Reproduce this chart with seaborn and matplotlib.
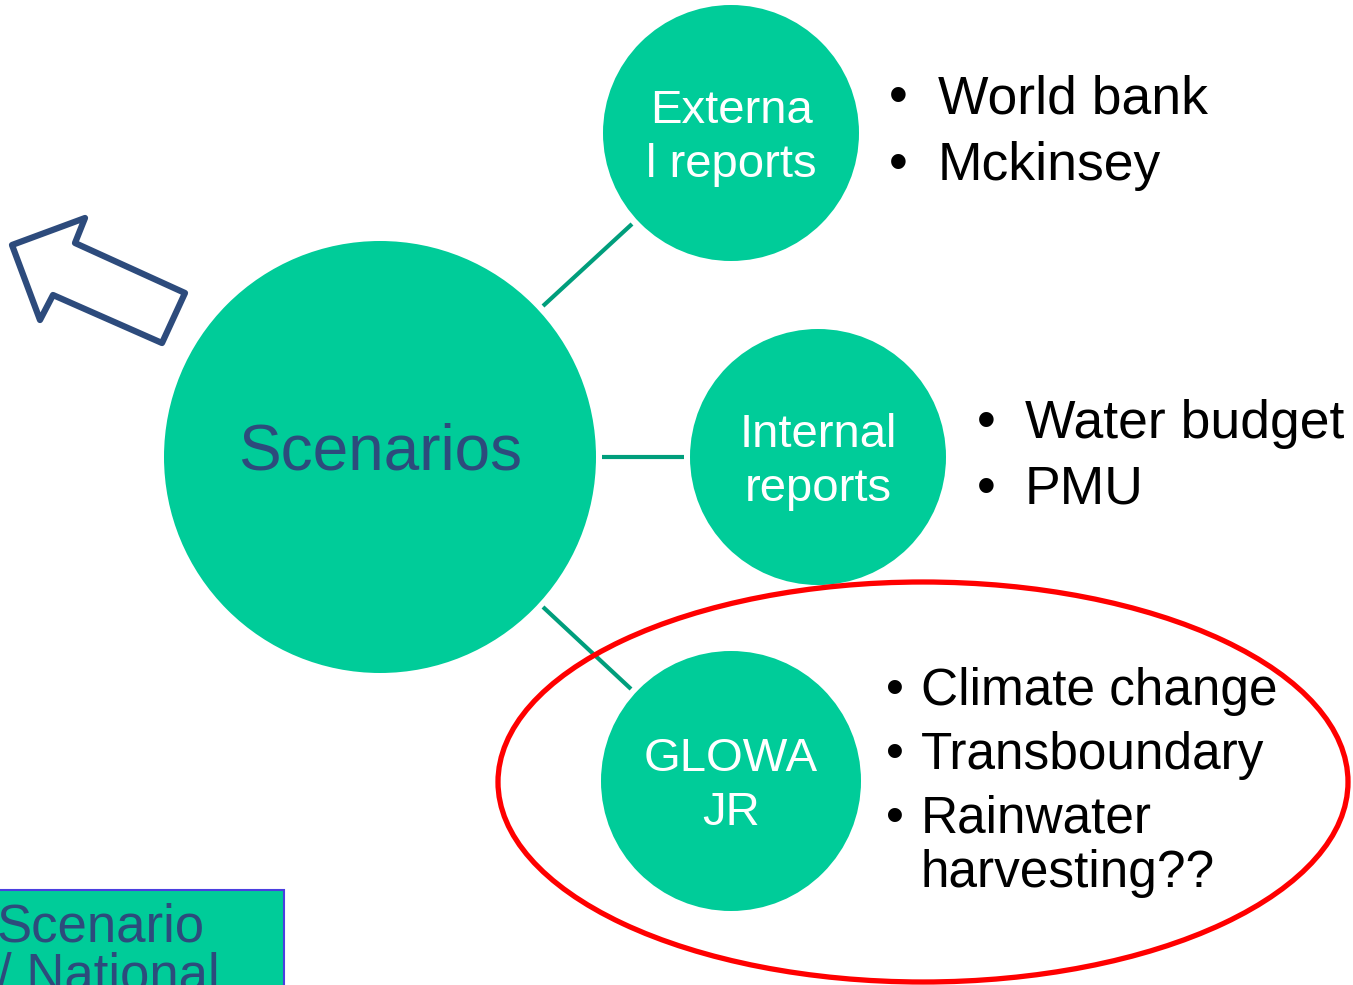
import matplotlib
matplotlib.use('Agg')
import matplotlib.pyplot as plt
from matplotlib.patches import Circle, Ellipse, Polygon, Rectangle
import seaborn as sns

sns.set_theme(style='white')
plt.rcParams['font.family'] = ['Liberation Sans', 'DejaVu Sans']

GREEN = '#00CC99'
LINE_GREEN = '#009E7C'
NAVY = '#2D4B7C'

# nodes: label, center x, center y, radius (pixel units of the slide)
node_labels = ['Scenarios', 'Externa\nl reports', 'Internal\nreports', 'GLOWA\nJR']
node_x = [380, 731, 818, 731]
node_y = [457, 133, 457, 781]
node_r = [216, 128, 128, 130]

# connector lines between main node and children
conn_x0 = [543, 602, 543]
conn_y0 = [306, 457, 607]
conn_x1 = [632, 684, 631]
conn_y1 = [224, 457, 689]

# bullet lists
bullet_groups = [
    ['World bank', 'Mckinsey'],
    ['Water budget', 'PMU'],
    ['Climate change', 'Transboundary', 'Rainwater', 'harvesting??'],
]
bullet_x = [898, 986, 895]
text_x = [938, 1025, 921]
bullet_y = [[99, 166], [424, 490], [691, 755, 819, 873]]
has_bullet = [[True, True], [True, True], [True, True, True, False]]
group_size = [38.5, 38.5, 37]

# arrow outline
arrow_x = [12, 85, 75, 185, 162, 53, 40]
arrow_y = [245, 218, 243, 293, 343, 295, 320]

fig = plt.figure(figsize=(13.53, 9.85), dpi=100)
ax = fig.add_axes([0, 0, 1, 1])
ax.set_xlim(0, 1353)
ax.set_ylim(985, 0)
ax.set_aspect('equal')
ax.axis('off')

for x0, y0, x1, y1 in zip(conn_x0, conn_y0, conn_x1, conn_y1):
    ax.plot([x0, x1], [y0, y1], color=LINE_GREEN, lw=3, solid_capstyle='butt', zorder=1)

for i, (lab, cx, cy, r) in enumerate(zip(node_labels, node_x, node_y, node_r)):
    ax.add_patch(Circle((cx, cy), r, facecolor=GREEN, edgecolor='none', zorder=2))
    if i == 0:
        ax.text(cx, cy - 5, lab, color=NAVY, fontsize=46, ha='center', va='center', zorder=3)
    else:
        ax.text(cx, cy + 5, lab, color='white', fontsize=34, ha='center', va='center',
                linespacing=1.32, zorder=3)

for items, bx, tx, ys, flags, fs in zip(bullet_groups, bullet_x, text_x, bullet_y, has_bullet, group_size):
    for item, y, fl in zip(items, ys, flags):
        if fl:
            ax.text(bx, y, '\u2022', fontsize=fs, ha='center', va='center', color='black')
        ax.text(tx, y, item, fontsize=fs, ha='left', va='center', color='black')

ax.add_patch(Ellipse((923, 782), 850, 400, facecolor='none', edgecolor='#FF0000', lw=3.8, zorder=4))

ax.add_patch(Polygon(list(zip(arrow_x, arrow_y)), closed=True, facecolor='white',
                     edgecolor=NAVY, lw=4.5, joinstyle='round', zorder=4))

ax.add_patch(Rectangle((-10, 890), 294, 120, facecolor=GREEN, edgecolor='#4B3FE0', lw=1.5, zorder=4))
ax.text(-3, 903, 'Scenario\n/ National', color=NAVY, fontsize=38, ha='left', va='top',
        linespacing=0.95, zorder=5)

fig.savefig('out.png', dpi=100)
